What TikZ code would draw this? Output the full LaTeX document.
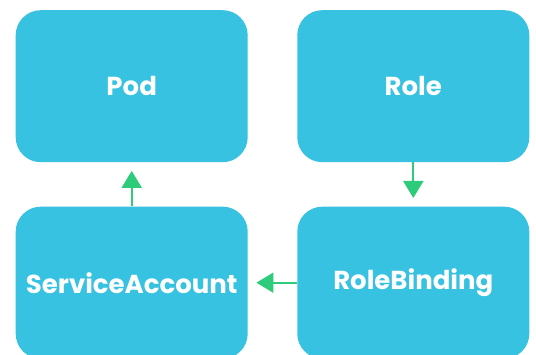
\documentclass[tikz,border=0pt]{standalone}
\usepackage{fontspec}
\setmainfont{Poppins}
\usetikzlibrary{arrows.meta}
\definecolor{boxblue}{RGB}{54,194,224}
\definecolor{flowgreen}{RGB}{46,204,122}
\begin{document}
\begin{tikzpicture}[x=1pt,y=1pt,
  kbox/.style={rectangle, rounded corners=25pt, fill=boxblue, draw=none,
    minimum width=232pt, minimum height=152pt, inner sep=0pt,
    text=white, font=\fontsize{26}{29}\selectfont\bfseries},
  conn/.style={draw=flowgreen, line width=2pt,
    -{Triangle[width=20pt,length=17pt]}, shorten >=8.5pt}]
  \useasboundingbox (0,0) rectangle (536,355);
  \clip (0,0) rectangle (536,355);
  \node[kbox] (pod)  at (131.7,268.8) {Pod};
  \node[kbox] (role) at (413.3,268.8) {Role};
  \node[kbox] (sa)   at (131.7,72.3)  {ServiceAccount};
  \node[kbox] (rb)   at (413.3,72.3)  {RoleBinding};
  \draw[conn] (role) -- (rb);
  \draw[conn] (rb) -- (sa);
  \draw[conn] (sa) -- (pod);
\end{tikzpicture}
\end{document}
